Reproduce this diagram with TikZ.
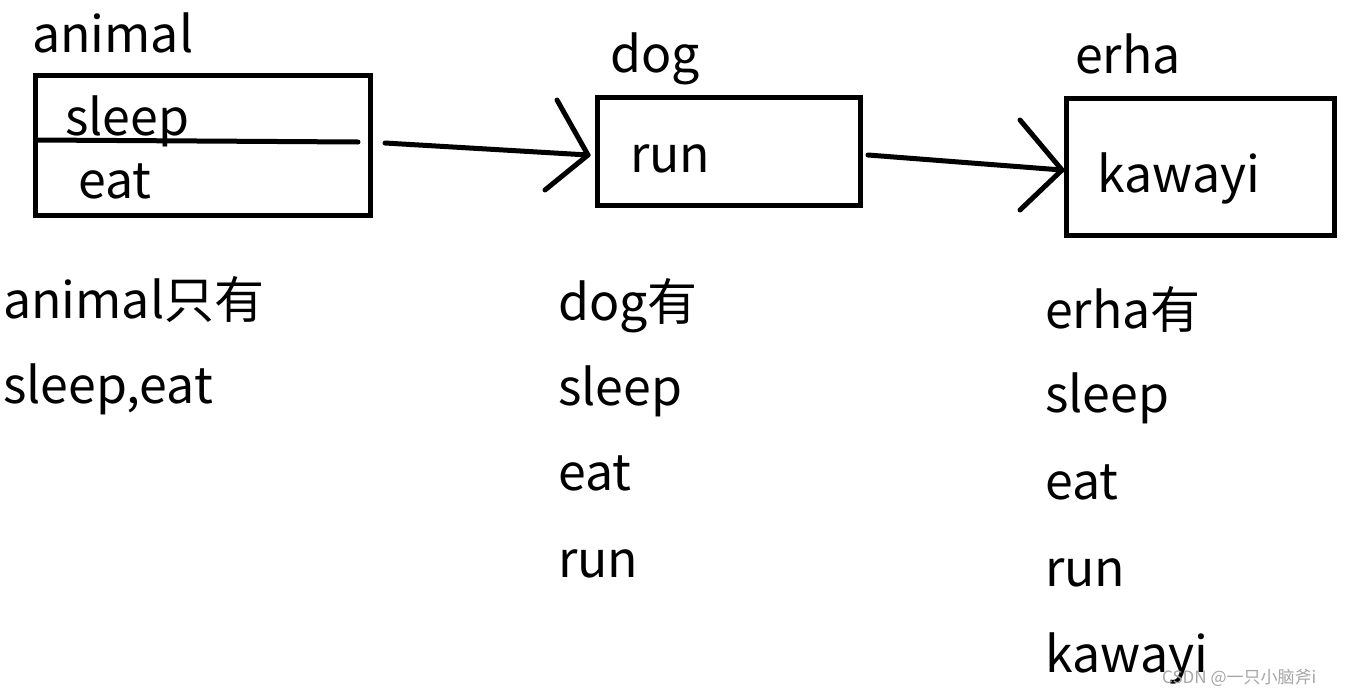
\documentclass[tikz,border=0pt]{standalone}
\usepackage{fontspec}
\setmainfont{Noto Sans CJK SC}
\begin{document}
\begin{tikzpicture}[x=1pt,y=-1pt,
  txt/.style={anchor=base west,inner sep=0pt,font=\fontsize{50}{54}\selectfont},
  box/.style={draw,line width=5pt},
  stroke/.style={line width=5pt,line cap=round,line join=round}]
\useasboundingbox[fill=white] (0,0) rectangle (1353,694);
% boxes
\draw[box] (35,75) rectangle (370,215);
\draw[box] (597,97) rectangle (860,205);
\draw[box] (1066,98) rectangle (1334,235);
\draw[stroke] (37,140) -- (358,142);
% labels
\node[txt] (la) at (32,52) {animal};
\node[txt] (ls) at (65,135) {sleep};
\node[txt] (le) at (78,198) {eat};
\node[txt] (ld) at (610,72) {dog};
\node[txt] (lr) at (630,172) {run};
\node[txt] (lh) at (1075,73) {erha};
\node[txt] (lk) at (1097,192) {kawayi};
% lower text
\node[txt] at (3,318) {animal只有};
\node[txt] at (3,403) {sleep,eat};
\node[txt] at (558,320) {dog有};
\node[txt] at (558,405) {sleep};
\node[txt] at (558,490) {eat};
\node[txt] at (558,577) {run};
\node[txt] at (1045,328) {erha有};
\node[txt] at (1045,412) {sleep};
\node[txt] at (1045,499) {eat};
\node[txt] at (1045,586) {run};
\node[txt] at (1045,672) {kawayi};
% arrows
\coordinate (a1s) at (385,143); \coordinate (a1e) at (588,155);
\coordinate (h1a) at (557,100); \coordinate (h1b) at (545,190);
\draw[stroke] (a1s) -- (a1e);
\draw[stroke] (h1a) -- (a1e) -- (h1b);
\coordinate (a2s) at (868,155); \coordinate (a2e) at (1062,170);
\coordinate (h2a) at (1020,120); \coordinate (h2b) at (1020,210);
\draw[stroke] (a2s) -- (a2e);
\draw[stroke] (h2a) -- (a2e) -- (h2b);
% watermark
\node[anchor=base west,inner sep=0pt,text=gray!70,font=\fontsize{17}{20}\selectfont] at (1162,683) {CSDN @一只小脑斧i};
\end{tikzpicture}
\end{document}
